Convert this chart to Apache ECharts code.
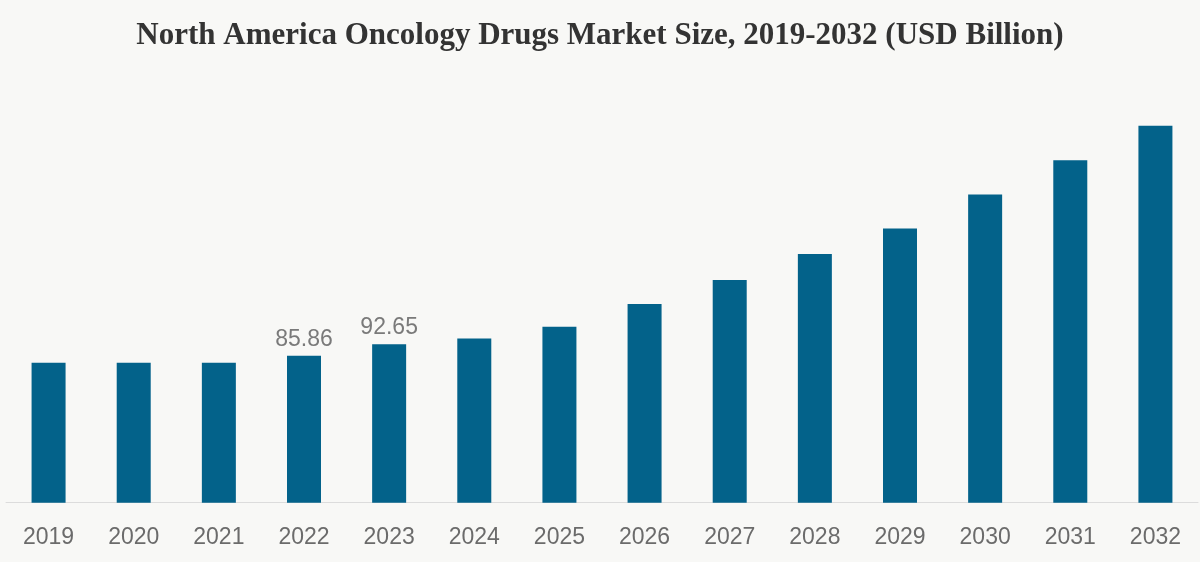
<!DOCTYPE html>
<html>
<head>
<meta charset="utf-8">
<style>
html,body{margin:0;padding:0;background:#f8f8f6;}
#c{width:1200px;height:562px;}
</style>
<script src="https://cdn.jsdelivr.net/npm/echarts@6/dist/echarts.min.js"></script>
</head>
<body>
<div id="c"></div>
<script>
const years = ['2019','2020','2021','2022','2023','2024','2025','2026','2027','2028','2029','2030','2031','2032'];
const values = [81.8, 81.8, 81.8, 85.86, 92.65, 96.0, 102.8, 116.1, 130.1, 145.3, 160.3, 180.1, 200.2, 220.4];
const labeledYears = ['2022','2023'];

const chart = echarts.init(document.getElementById('c'));
chart.setOption({
  backgroundColor: '#f8f8f6',
  animation: false,
  title: {
    text: 'North America Oncology Drugs Market Size, 2019-2032 (USD Billion)',
    left: 'center',
    top: 15,
    textStyle: {fontFamily: 'Liberation Serif', fontWeight: 'bold', fontSize: 31, color: '#333'}
  },
  grid: {left: 6, right: 2, top: 75, bottom: 59.3, containLabel: false},
  xAxis: {
    type: 'category',
    data: years,
    axisLine: {lineStyle: {color: '#dcdcdc', width: 1}},
    axisTick: {show: false},
    axisLabel: {color: '#6b6b6b', fontFamily: 'Liberation Sans', fontSize: 23, margin: 23}
  },
  yAxis: {
    type: 'value', min: 0, max: 250,
    show: false,
    splitLine: {show: false}
  },
  series: [{
    type: 'bar',
    barWidth: 34,
    itemStyle: {color: '#03628a'},
    data: values.map((v, i) => ({
      value: v,
      label: {
        show: labeledYears.includes(years[i]),
        position: 'top',
        distance: 5,
        color: '#7a7a7a',
        fontFamily: 'Liberation Sans',
        fontSize: 23
      }
    }))
  }]
});
</script>
</body>
</html>
